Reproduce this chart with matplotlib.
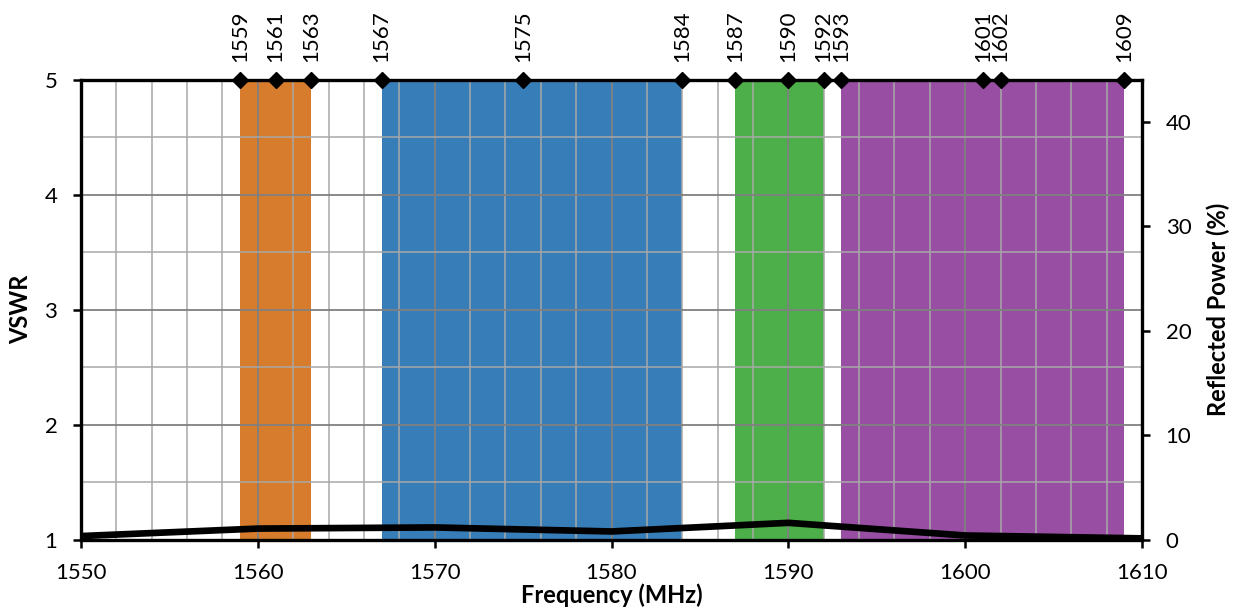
import matplotlib
matplotlib.use("Agg")
import matplotlib.pyplot as plt
from matplotlib.ticker import MultipleLocator

# Data
freq = [1550, 1560, 1570, 1580, 1590, 1600, 1610]
vswr = [1.03, 1.095, 1.105, 1.07, 1.145, 1.035, 1.01]
band_starts = [1559, 1567, 1587, 1593]
band_ends = [1563, 1584, 1592, 1609]
band_colors = ["#D67C2C", "#377EB8", "#4DAF4A", "#984EA3"]
marker_freqs = [1559, 1561, 1563, 1567, 1575, 1584, 1587, 1590, 1592, 1593, 1601, 1602, 1609]

plt.rcParams['font.family'] = ['Lato', 'DejaVu Sans']

fig = plt.figure(figsize=(12.4, 6.16), dpi=100)
ax = fig.add_axes([81/1240, 1-539.5/616, (1142-81)/1240, (539.5-80)/616])

for s, e, c in zip(band_starts, band_ends, band_colors):
    ax.axvspan(s, e, color=c, lw=0, zorder=1)

ax.set_xlim(1550, 1610)
ax.set_ylim(1, 5)
ax.xaxis.set_major_locator(MultipleLocator(10))
ax.xaxis.set_minor_locator(MultipleLocator(2))
ax.yaxis.set_major_locator(MultipleLocator(1))
ax.yaxis.set_minor_locator(MultipleLocator(0.5))
ax.grid(which='major', color='#808080', lw=1.3, zorder=2)
ax.grid(which='minor', color='#a8a8a8', lw=1.1, zorder=2)
ax.set_axisbelow(False)

ax.plot(freq, vswr, color='black', lw=4.8, zorder=4, clip_on=False, solid_capstyle='butt')

ax.plot(marker_freqs, [5]*len(marker_freqs), linestyle='none', marker='D', color='black',
        markersize=8.5, zorder=6, clip_on=False)
for f in marker_freqs:
    ax.annotate(str(f), xy=(f, 5), xytext=(0, 13), textcoords='offset points',
                rotation=90, ha='center', va='bottom', fontsize=16, annotation_clip=False)

for sp in ax.spines.values():
    sp.set_linewidth(2.4)
    sp.set_color('black')
    sp.set_zorder(5)

ax.tick_params(which='minor', length=0)
ax.tick_params(which='major', length=6, width=1.8, direction='out', labelsize=16, pad=11)
ax.set_xlabel('Frequency (MHz)', fontsize=17, fontweight='bold', labelpad=0)
ax.set_ylabel('VSWR', fontsize=17, fontweight='bold', labelpad=9)

ax2 = ax.twinx()
ax2.set_ylim(0, 44)
ax2.yaxis.set_major_locator(MultipleLocator(10))
ax2.tick_params(which='major', length=6, width=1.8, direction='out', labelsize=16, pad=11)
ax2.set_ylabel('Reflected Power (%)', fontsize=17, fontweight='bold', labelpad=11)
for sp in ax2.spines.values():
    sp.set_visible(False)

fig.savefig('out.png', dpi=100)
